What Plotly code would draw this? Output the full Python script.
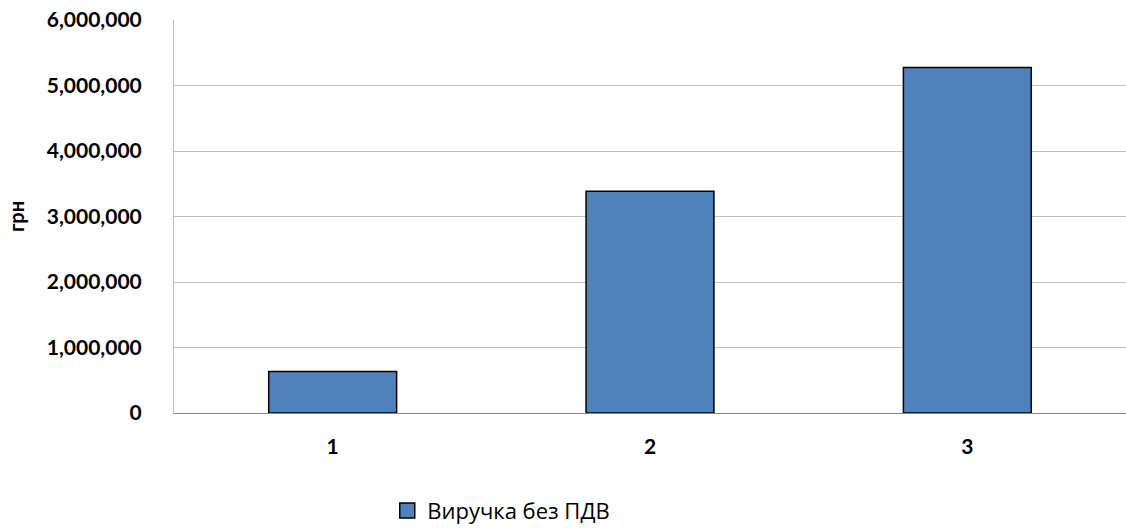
import plotly.graph_objects as go

# Revenue (excluding VAT) by period
categories = ["1", "2", "3"]
revenue = [635000, 3387000, 5275000]
series_name = "Виручка без ПДВ"
y_ticks = [0, 1000000, 2000000, 3000000, 4000000, 5000000, 6000000]

BAR_COLOR = "#4F81BD"

fig = go.Figure()
fig.add_trace(go.Bar(
    x=categories,
    y=revenue,
    name=series_name,
    width=0.403,
    marker=dict(color=BAR_COLOR, line=dict(color="#000000", width=1.5)),
    showlegend=False,
))
# Legend entry with a larger square swatch
fig.add_trace(go.Scatter(
    x=[None],
    y=[None],
    mode="markers",
    name=series_name,
    marker=dict(symbol="square", size=15, color=BAR_COLOR, line=dict(color="#000000", width=1.5)),
    showlegend=True,
))

fig.update_layout(
    width=1126,
    height=528,
    paper_bgcolor="white",
    plot_bgcolor="white",
    margin=dict(l=174, r=0, t=20, b=115, autoexpand=False),
    font=dict(family="Lato, 'Open Sans', sans-serif", color="#000000"),
    showlegend=True,
    legend=dict(
        orientation="h",
        x=0.224,
        xanchor="left",
        y=-0.195,
        yanchor="top",
        font=dict(size=22, family="'Open Sans', Lato, sans-serif"),
    ),
    xaxis=dict(
        type="category",
        tickfont=dict(size=21, family="Lato, sans-serif", weight="bold"),
        showline=True,
        linecolor="#888888",
        linewidth=1,
        ticks="",
        ticklabelstandoff=15,
    ),
    yaxis=dict(
        range=[0, 6000000],
        tickvals=y_ticks,
        tickformat=",",
        tickfont=dict(size=21, family="Lato, sans-serif", weight="bold"),
        showgrid=True,
        gridcolor="#C0C0C0",
        gridwidth=1,
        showline=True,
        linecolor="#C0C0C0",
        linewidth=1,
        ticks="",
        ticklabelstandoff=27,
        zeroline=False,
        title=dict(text="грн", font=dict(size=20, family="Lato, sans-serif", weight="bold"), standoff=16),
    ),
)

fig.write_html("out.html")
